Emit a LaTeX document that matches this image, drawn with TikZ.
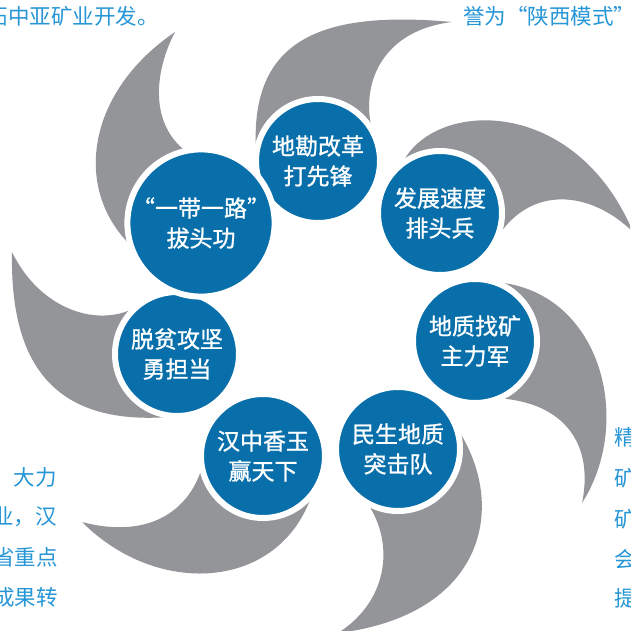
\documentclass[tikz,border=0pt]{standalone}
\usepackage{fontspec}
\newfontfamily\cjk{Noto Sans CJK SC}
\newfontfamily\cjkm[FakeBold=1]{Noto Sans CJK SC}
\definecolor{bladegray}{RGB}{148,149,153}
\definecolor{discblue}{RGB}{8,111,171}
\definecolor{textblue}{RGB}{38,150,214}
\begin{document}
\begin{tikzpicture}[x=1pt,y=-1pt,
  blade/.style={fill=bladegray, draw=none},
  disc/.style={circle, fill=discblue, draw=white, line width=6pt, minimum size=124pt, inner sep=0pt, text=white, align=center, font=\cjkm\fontsize{23}{30}\selectfont},
  side/.style={text=textblue, font=\cjk\fontsize{21.5}{21.5}\selectfont, inner sep=0pt}]
\useasboundingbox (0,0) rectangle (630,631);
\clip (0,0) rectangle (630,631);
\fill[white] (0,0) rectangle (630,631);
% blades
\fill[blade] (318,161) -- (256,150) .. controls (250,40) and (320,10) .. (452,22) .. controls (385,30) and (360,80) .. (372,130) -- cycle;
\fill[blade] (440,213) -- (403,162) .. controls (435,100) and (575,95) .. (633,232) .. controls (590,190) and (530,185) .. (497,238) -- cycle;
\fill[blade] (475,341) -- (495,282) .. controls (600,290) and (635,420) .. (582,503) .. controls (595,440) and (560,400) .. (493,398) -- cycle;
\fill[blade] (398,449) -- (455,425) .. controls (510,505) and (485,615) .. (338,633) .. controls (390,600) and (395,540) .. (365,500) -- cycle;
\fill[blade] (263,456) -- (314,488) .. controls (285,590) and (160,600) .. (82,522) .. controls (150,540) and (195,510) .. (205,455) -- cycle;
\fill[blade] (177,354) -- (180,416) .. controls (50,430) and (10,360) .. (12,252) .. controls (40,310) and (100,330) .. (140,305) -- cycle;
\fill[blade] (201,223) -- (158,266) .. controls (70,215) and (75,100) .. (175,32) .. controls (150,80) and (150,140) .. (205,162) -- cycle;
% discs
\node[disc] (n1) at (318,161) {地勘改革\\打先锋};
\node[disc] (n2) at (440,213) {发展速度\\排头兵};
\node[disc] (n3) at (475,341) {地质找矿\\主力军};
\node[disc] (n4) at (398,449) {民生地质\\突击队};
\node[disc] (n5) at (263,456) {汉中香玉\\赢天下};
\node[disc] (n6) at (177,354) {脱贫攻坚\\勇担当};
\node[disc] (n7) at (201,223) {“一带一路”\\拔头功};
% side texts
\node[side, anchor=west] (t1) at (-13.5,16) {拓中亚矿业开发。};
\node[side, anchor=west] (t2) at (463,16) {誉为“陕西模式”};
\node[side, anchor=east] (l1) at (57,477) {大力};
\node[side, anchor=east] (l2) at (57,517) {业，汉};
\node[side, anchor=east] (l3) at (58,557) {省重点};
\node[side, anchor=east] (l4) at (58,597) {成果转};
\node[side, anchor=west] (r1) at (614,437) {精};
\node[side, anchor=west] (r2) at (614,478) {矿};
\node[side, anchor=west] (r3) at (614,519) {矿};
\node[side, anchor=west] (r4) at (614,559) {会};
\node[side, anchor=west] (r5) at (614,598) {提};
\end{tikzpicture}
\end{document}
